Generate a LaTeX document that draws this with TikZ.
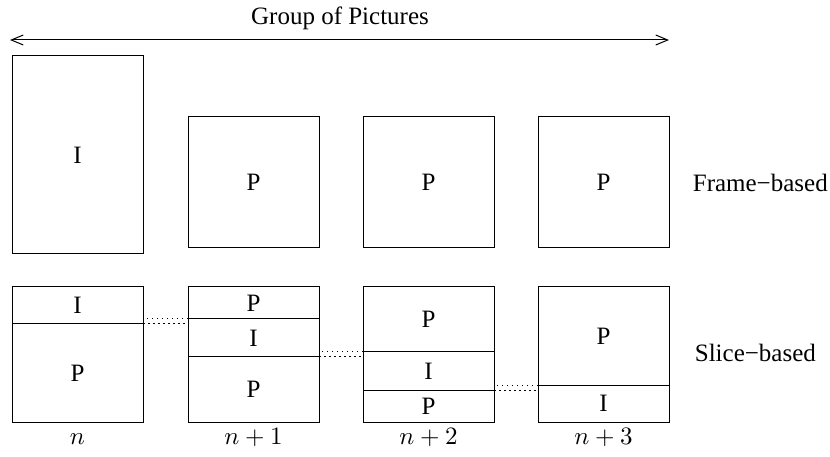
\documentclass[tikz,border=0pt]{standalone}
\usepackage{fontspec}
\setmainfont{LiberationSerif}[Extension=.ttf, UprightFont=*-Regular, BoldFont=*-Bold]
\usetikzlibrary{positioning,calc,arrows.meta}

\newlength\pix
\setlength\pix{0.4pt}

\tikzset{
    frame/.style={
        draw,
        line width=0.4pt,
        minimum width=131*\pix,
        inner sep=0pt,
        outer sep=0pt
    },
    slice/.style={
        frame,
        minimum height=#1*\pix
    },
    gap/.style={
        line width=0.4pt,
        dash pattern=on 0.6pt off 1.4pt
    },
    gop/.style={
        {Straight Barb[length=4.8pt,width=4pt]}-{Straight Barb[length=4.8pt,width=4pt]},
        line width=0.4pt
    },
    colname/.style={anchor=base}
}

\begin{document}
\begin{tikzpicture}[x=0.4pt, y=-0.4pt]
    \useasboundingbox (0,0) rectangle (830,457);

    % group of pictures
    \node (title) at (340,18) {Group of Pictures};
    \coordinate (gopL) at (10,40);
    \coordinate (gopR) at (669,40);
    \draw[gop] (gopL) -- (gopR);

    % frame-based coding
    \node[frame, minimum height=198*\pix, anchor=north west] (fI) at (12,56) {I};
    \node[frame, minimum height=131*\pix, anchor=north west] (fP1) at (188,117) {P};
    \node[frame, minimum height=131*\pix, anchor=north west] (fP2) at (363,117) {P};
    \node[frame, minimum height=131*\pix, anchor=north west] (fP3) at (538,117) {P};
    \node[right=6pt of fP3] (fbased) {Frame−based};

    % slice-based coding
    \node[slice=37, anchor=north west] (s1a) at (12,287) {I};
    \node[slice=98, below=0pt of s1a] (s1b) {P};

    \node[slice=32, anchor=north west] (s2a) at (188,287) {P};
    \node[slice=38, below=0pt of s2a] (s2b) {I};
    \node[slice=65, below=0pt of s2b] (s2c) {P};

    \node[slice=65, anchor=north west] (s3a) at (363,287) {P};
    \node[slice=38, below=0pt of s3a] (s3b) {I};
    \node[slice=32, below=0pt of s3b] (s3c) {P};

    \node[slice=98, anchor=north west] (s4a) at (538,287) {P};
    \node[slice=37, below=0pt of s4a] (s4b) {I};
    \node[anchor=west] (sbased) at ($(s4a.north east)!0.5!(s4b.south east)+(17,-2)$) {Slice−based};

    % slice boundaries carried over to the next picture
    \draw[gap] (s1a.south east) -- (s1a.south east -| s2a.west);
    \draw[gap] (s2a.south west) -- (s2a.south west -| s1a.east);
    \draw[gap] (s2b.south east) -- (s2b.south east -| s3a.west);
    \draw[gap] (s3a.south west) -- (s3a.south west -| s2b.east);
    \draw[gap] (s3b.south east) -- (s3b.south east -| s4a.west);
    \draw[gap] (s4a.south west) -- (s4a.south west -| s3b.east);

    % picture indices
    \node[colname] (n0) at ($(s1b.south)+(0,22)$) {$n$};
    \node[colname] (n1) at ($(s2c.south)+(0,22)$) {$n+1$};
    \node[colname] (n2) at ($(s3c.south)+(0,22)$) {$n+2$};
    \node[colname] (n3) at ($(s4b.south)+(0,22)$) {$n+3$};
\end{tikzpicture}
\end{document}
